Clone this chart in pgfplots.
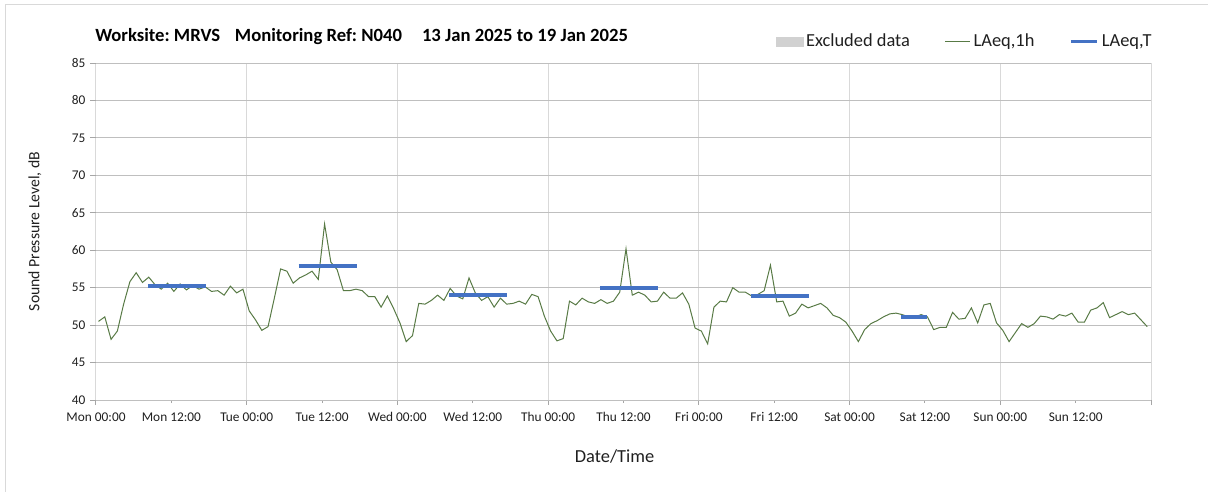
\documentclass[border=0pt]{standalone}
\usepackage{fontspec}
\setmainfont{Carlito}
\usepackage{pgfplots}
\usepackage{pgfplotstable}
\pgfplotsset{compat=1.18}
\frenchspacing
\definecolor{lgreen}{HTML}{587A45}
\definecolor{lblue}{HTML}{4472C4}
\definecolor{hgrid}{HTML}{BFBFBF}
\definecolor{vgrid}{HTML}{D9D9D9}
\definecolor{axgray}{HTML}{A6A6A6}
\definecolor{txt}{HTML}{1F1F1F}
\pgfplotstableread{
h v
0 50.5
1 51.1
2 48.1
3 49.2
4 52.8
5 55.8
6 57.0
7 55.7
8 56.4
9 55.4
10 54.8
11 55.6
12 54.5
13 55.5
14 54.7
15 55.3
16 54.8
17 55.1
18 54.5
19 54.6
20 54.0
21 55.2
22 54.3
23 54.8
24 51.9
25 50.7
26 49.3
27 49.8
28 53.6
29 57.5
30 57.2
31 55.6
32 56.3
33 56.7
34 57.2
35 56.1
36 63.5
37 58.4
38 57.4
39 54.6
40 54.6
41 54.8
42 54.6
43 53.8
44 53.8
45 52.4
46 53.9
47 52.2
48 50.3
49 47.8
50 48.6
51 52.9
52 52.8
53 53.3
54 54.0
55 53.3
56 54.9
57 53.9
58 53.5
59 56.3
60 54.3
61 53.3
62 53.8
63 52.4
64 53.6
65 52.8
66 52.9
67 53.2
68 52.8
69 54.1
70 53.8
71 51.2
72 49.2
73 47.9
74 48.2
75 53.2
76 52.7
77 53.6
78 53.1
79 52.9
80 53.4
81 52.9
82 53.2
83 54.4
84 60.2
85 54.0
86 54.4
87 54.0
88 53.1
89 53.2
90 54.4
91 53.6
92 53.6
93 54.3
94 52.8
95 49.6
96 49.2
97 47.5
98 52.4
99 53.2
100 53.1
101 55.0
102 54.4
103 54.4
104 53.9
105 54.1
106 54.6
107 58.0
108 53.1
109 53.2
110 51.2
111 51.6
112 52.8
113 52.3
114 52.6
115 52.9
116 52.3
117 51.3
118 51.0
119 50.4
120 49.2
121 47.8
122 49.4
123 50.2
124 50.6
125 51.1
126 51.5
127 51.6
128 51.4
129 51.1
130 51.1
131 51.4
132 51.1
133 49.4
134 49.7
135 49.7
136 51.7
137 50.8
138 50.9
139 52.3
140 50.3
141 52.7
142 52.9
143 50.3
144 49.3
145 47.8
146 49.0
147 50.2
148 49.7
149 50.2
150 51.2
151 51.1
152 50.8
153 51.4
154 51.2
155 51.6
156 50.4
157 50.4
158 52.0
159 52.3
160 53.0
161 51.0
162 51.4
163 51.8
164 51.4
165 51.6
166 50.7
167 49.8
}\hourly
\pgfplotstableread{
t v
8.25 55.2
17.5 55.2
nan nan
32.25 57.9
41.5 57.9
nan nan
56.25 54.05
65.5 54.05
nan nan
80.25 55.0
89.5 55.0
nan nan
104.25 53.9
113.5 53.9
nan nan
128.25 51.1
132.4 51.1
}\laeqt
\begin{document}
\begin{tikzpicture}
\useasboundingbox (0,0) rectangle (906pt,-369pt);
\draw[black!15, line width=0.75pt] (3.75pt,-3.75pt) rectangle (930pt,-390pt);
\node[anchor=west, font=\bfseries\fontsize{14}{16}\selectfont, text=black, inner sep=0pt] at (71.25pt,-27.75pt)
  {Worksite: MRVS\hspace{11pt}Monitoring Ref: N040\hspace{15pt}13 Jan 2025 to 19 Jan 2025};
\begin{axis}[
  at={(72pt,-300pt)}, anchor=south west,
  width=791.25pt, height=252.75pt, scale only axis,
  xmin=0, xmax=168, ymin=40, ymax=85,
  axis x line*=bottom, axis y line*=left,
  axis line style={draw=axgray, line width=0.75pt},
  xtick={0,12,...,156},
  xticklabels={Mon 00:00,Mon 12:00,Tue 00:00,Tue 12:00,Wed 00:00,Wed 12:00,Thu 00:00,Thu 12:00,Fri 00:00,Fri 12:00,Sat 00:00,Sat 12:00,Sun 00:00,Sun 12:00},
  extra x ticks={0,24,...,168},
  extra x tick labels={},
  extra x tick style={grid=major, major tick length=3.75pt},
  ytick=\empty,
  extra y ticks={40,45,...,85},
  extra y tick style={grid=major, major tick length=4.5pt},
  tick align=outside, tick pos=left,
  major tick length=2.25pt,
  tick style={draw=axgray, line width=0.75pt},
  x grid style={draw=vgrid, line width=0.75pt},
  y grid style={draw=hgrid, line width=0.75pt},
  /pgf/number format/assume math mode=true,
  ticklabel style={font=\fontsize{10}{12}\selectfont, text=txt},
  xticklabel style={yshift=-3.5pt},
  ylabel={Sound Pressure Level, dB},
  xlabel={Date/Time},
  ylabel style={at={(axis description cs:-0.0578,0.5)}, anchor=center, font=\fontsize{11.8}{13}\selectfont, text=txt},
  xlabel style={at={(axis description cs:0.4915,-0.169)}, anchor=center, font=\fontsize{13.8}{15}\selectfont, text=txt},
  legend columns=3,
  legend style={at={(axis description cs:1.007,1.064)}, anchor=east, draw=none, fill=none,
    font=\fontsize{13.8}{15}\selectfont, text=txt,
    /tikz/every even column/.append style={column sep=24pt}},
  legend cell align=left,
]
\addlegendimage{legend image code/.code={\fill[black!18] (0pt,-3.4pt) rectangle (20pt,3.4pt);}}
\addlegendentry{Excluded data}
\addplot[lgreen, line width=0.75pt, mark=none,
  legend image code/.code={\draw[lgreen, line width=0.75pt] (0pt,0pt) -- (19pt,0pt);}]
  table[x expr=\thisrow{h}+0.4, y=v]{\hourly};
\addlegendentry{LAeq,1h}
\addplot[lblue, line width=3pt, mark=none, unbounded coords=jump,
  legend image code/.code={\draw[lblue, line width=2.6pt] (0pt,0pt) -- (20pt,0pt);}]
  table[x=t, y=v]{\laeqt};
\addlegendentry{LAeq,T}
\end{axis}
\end{tikzpicture}
\end{document}
